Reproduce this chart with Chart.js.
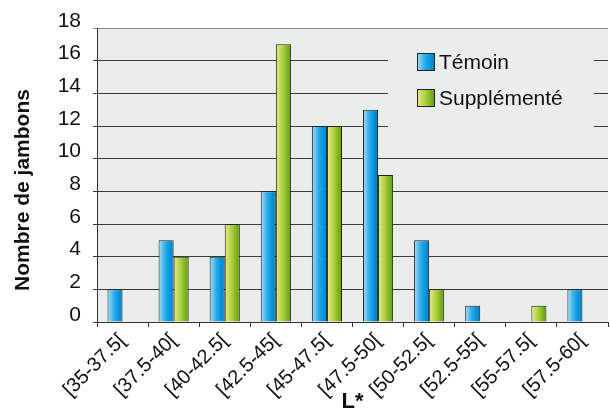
<!DOCTYPE html>
<html lang="fr">
<head>
  <meta charset="UTF-8" />
  <title>Nombre de jambons par classe de L*</title>
  <script src="https://cdn.jsdelivr.net/npm/chart.js@4.4.1/dist/chart.umd.min.js"></script>
  <style>
    html, body { margin: 0; padding: 0; background: #fff; }
    #wrap { width: 610px; height: 415px; }
  </style>
</head>
<body>
  <div id="wrap"><canvas id="chart" width="610" height="415"></canvas></div>
  <script>
    // classes de L* et effectifs
    const classes = ['[35-37.5[', '[37.5-40[', '[40-42.5[', '[42.5-45[', '[45-47.5[',
      '[47.5-50[', '[50-52.5[', '[52.5-55[', '[55-57.5[', '[57.5-60[']
    const temoin = [2, 5, 4, 8, 12, 13, 5, 1, 0, 2]
    const supplemente = [0, 4, 6, 17, 12, 9, 2, 0, 1, 0]
    const yTicks = [0, 2, 4, 6, 8, 10, 12, 14, 16, 18]

    const FONT = "Arial, 'Liberation Sans', Helvetica, sans-serif"
    const PLOT_BG = '#ebecec'
    const CAT_PCT = 0.59

    const stopsBlue = [[0, '#a6e0f8'], [0.45, '#2aaae8'], [0.8, '#0090d8'], [1, '#007cc4']]
    const stopsGreen = [[0, '#e6ec84'], [0.45, '#b0d044'], [0.8, '#78b01c'], [1, '#64a010']]

    function hGradient(ctx, x0, x1, stops) {
      const g = ctx.createLinearGradient(x0, 0, x1, 0)
      for (const [o, c] of stops) g.addColorStop(o, c)
      return g
    }

    // gradient horizontal par barre, calé sur la position que donnera l'axe x
    function barFill(stops, fallback) {
      return (c) => {
        const chart = c.chart
        const xs = chart.scales.x
        if (!chart.chartArea || !xs) return fallback
        const catW = xs.width / classes.length
        const barW = catW * CAT_PCT / 2
        const center = xs.getPixelForValue(c.dataIndex)
        const left = center - barW + c.datasetIndex * barW
        return hGradient(chart.ctx, left, left + barW, stops)
      }
    }

    const plotBg = {
      id: 'plotBg',
      beforeDraw(chart) {
        const { ctx, chartArea: a } = chart
        ctx.save()
        ctx.fillStyle = PLOT_BG
        ctx.fillRect(a.left, a.top, a.right - a.left, a.bottom - a.top)
        ctx.restore()
      },
    }

    const legendBox = {
      id: 'legendBox',
      afterDatasetsDraw(chart) {
        const { ctx } = chart
        ctx.save()
        ctx.fillStyle = PLOT_BG
        ctx.fillRect(388, 45, 206, 90)
        const items = [
          { label: 'Témoin', stops: stopsBlue, y: 53 },
          { label: 'Supplémenté', stops: stopsGreen, y: 89 },
        ]
        for (const it of items) {
          ctx.fillStyle = hGradient(ctx, 417, 435, it.stops)
          ctx.fillRect(417, it.y, 18, 18)
          ctx.strokeStyle = '#222'
          ctx.lineWidth = 1
          ctx.strokeRect(417.5, it.y + 0.5, 17, 17)
          ctx.fillStyle = '#111'
          ctx.font = `21px ${FONT}`
          ctx.textBaseline = 'middle'
          ctx.textAlign = 'left'
          ctx.fillText(it.label, 439, it.y + 10)
        }
        ctx.restore()
      },
    }

    const yTitle = {
      id: 'yTitle',
      afterDraw(chart) {
        const { ctx } = chart
        ctx.save()
        ctx.translate(23, 190)
        ctx.rotate(-Math.PI / 2)
        ctx.fillStyle = '#111'
        ctx.font = `bold 21px ${FONT}`
        ctx.textAlign = 'center'
        ctx.textBaseline = 'middle'
        ctx.fillText('Nombre de jambons', 0, 0)
        ctx.restore()
      },
    }

    new Chart(document.getElementById('chart'), {
      type: 'bar',
      data: {
        labels: classes,
        datasets: [
          {
            label: 'Témoin',
            data: temoin,
            backgroundColor: barFill(stopsBlue, '#0090d8'),
            borderColor: '#222',
            borderWidth: 1,
            categoryPercentage: CAT_PCT,
            barPercentage: 1,
          },
          {
            label: 'Supplémenté',
            data: supplemente,
            backgroundColor: barFill(stopsGreen, '#90c030'),
            borderColor: '#222',
            borderWidth: 1,
            categoryPercentage: CAT_PCT,
            barPercentage: 1,
          },
        ],
      },
      options: {
        responsive: false,
        animation: false,
        layout: { padding: { top: 28, right: 2, left: 0, bottom: 0 } },
        plugins: { legend: { display: false }, tooltip: { enabled: false } },
        scales: {
          x: {
            afterFit(s) { s.height = 93 },
            grid: { drawOnChartArea: false, offset: true, tickLength: 5, color: '#333' },
            border: { color: '#333', width: 1 },
            ticks: {
              color: '#111',
              font: { family: FONT, size: 20 },
              minRotation: 45,
              maxRotation: 45,
              autoSkip: false,
              padding: 2,
            },
            title: {
              display: true,
              text: 'L*',
              color: '#111',
              font: { family: FONT, size: 22, weight: 'bold' },
              padding: 0,
            },
          },
          y: {
            min: 0,
            max: 18,
            afterFit(s) { s.width = 97 },
            afterBuildTicks(s) { s.ticks = yTicks.map((v) => ({ value: v })) },
            grid: {
              color: (c) => (c.tick && c.tick.value === 18 ? '#8a8a8a' : '#3a3a3a'),
              tickLength: 4,
            },
            border: { color: '#333', width: 1 },
            ticks: {
              color: '#111',
              font: { family: FONT, size: 21 },
              padding: 12,
              labelOffset: -7,
            },
          },
        },
      },
      plugins: [plotBg, legendBox, yTitle],
    })
  </script>
</body>
</html>
